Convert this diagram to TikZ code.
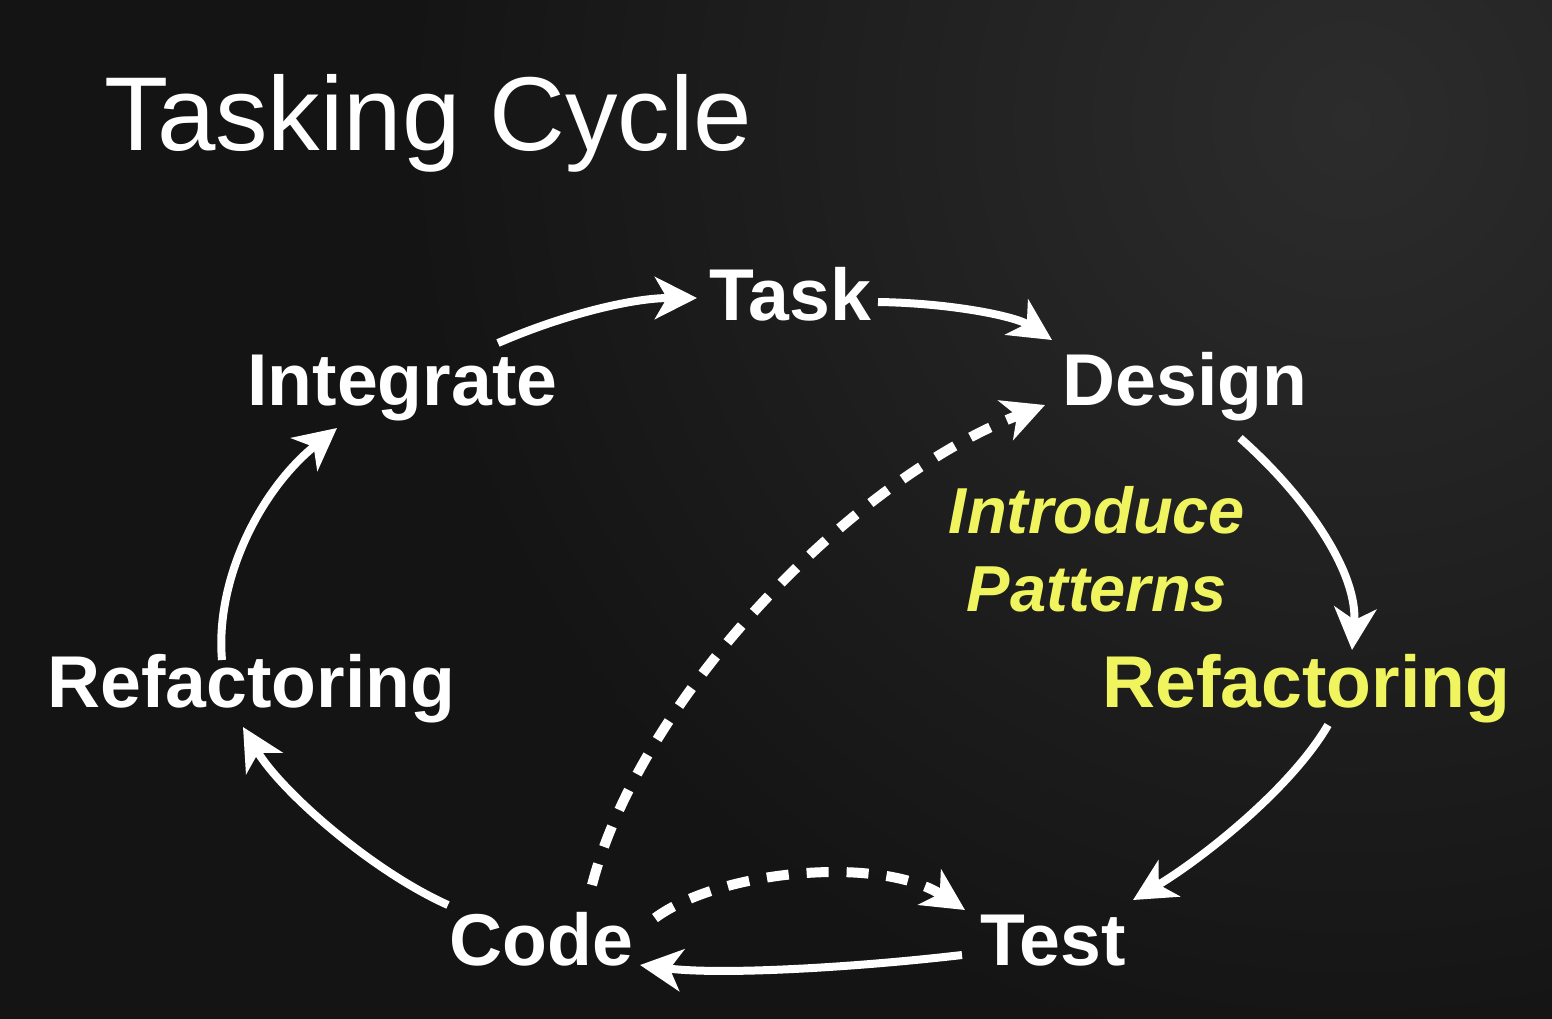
\documentclass[tikz,border=0pt]{standalone}
\usepackage{fontspec}
\setmainfont{Liberation Sans}
\usetikzlibrary{arrows.meta,calc}
\definecolor{bgdark}{RGB}{20,20,20}
\definecolor{bglight}{RGB}{44,44,44}
\definecolor{hiyellow}{RGB}{240,245,95}
\tikzset{
  lbl/.style={anchor=base west,inner sep=0pt,text=white,font=\bfseries\fontsize{36.7}{40}\selectfont},
  ylbl/.style={lbl,text=hiyellow},
  flow/.style={draw=white,line width=4pt,-{Stealth[length=21pt,width=21pt,inset=6pt]}},
  dflow/.style={draw=white,line width=5pt,dash pattern=on 11pt off 9pt,-{Stealth[length=21pt,width=21pt,inset=6pt]}}
}
\begin{document}
\begin{tikzpicture}[x=0.5pt,y=-0.5pt]
\useasboundingbox (0,0) rectangle (1552,1018);
\fill[bgdark] (-10,-10) rectangle (1562,1028);
\begin{scope}
\clip (-10,-10) rectangle (1562,1028);
\shade[inner color=bglight,outer color=bgdark] (1350,120) circle [radius=950];
\end{scope}
% title
\node[anchor=base west,inner sep=0pt,text=white,font=\fontsize{52.5}{56}\selectfont] (title) at (104,150) {Tasking Cycle};
% labels
\node[lbl] (task) at (709,320) {Task};
\node[lbl] (integ) at (247,405) {Integrate};
\node[lbl] (design) at (1062,405) {Design};
\node[ylbl] (refR) at (1102,707) {Refactoring};
\node[lbl] (refL) at (47,707) {Refactoring};
\node[lbl] (code) at (449,965) {Code};
\node[lbl] (test) at (980,965) {Test};
\node[inner sep=0pt,text=hiyellow,align=center,font=\bfseries\itshape\fontsize{32.5}{39}\selectfont] (intro) at (1097,549) {Introduce\\Patterns};
% solid arrows
\draw[flow] ($(integ.base west)+(251,-62)$) .. controls (560,316) and (630,298) .. ($(task.base west)+(-12,-22)$);
\draw[flow] ($(task.base west)+(169,-18)$) .. controls (950,303) and (1015,316) .. ($(design.base west)+(-10,-65)$);
\draw[flow] ($(design.base west)+(178,33)$) .. controls (1310,500) and (1358,575) .. ($(refR.base west)+(250,-57)$);
\draw[flow] ($(refR.base west)+(226,18)$) .. controls (1290,790) and (1200,860) .. ($(test.base west)+(153,-65)$);
\draw[flow] ($(test.base west)+(-18,-10)$) .. controls (850,968) and (720,975) .. ($(code.base west)+(191,0)$);
\draw[flow] ($(code.base west)+(-1,-60)$) .. controls (370,870) and (280,790) .. ($(refL.base west)+(196,20)$);
\draw[flow] ($(refL.base west)+(175,-47)$) .. controls (215,580) and (260,490) .. ($(integ.base west)+(90,23)$);
% dashed arrows
\draw[dflow] ($(code.base west)+(206,-47)$) .. controls (720,870) and (880,855) .. ($(test.base west)+(-15,-55)$);
\draw[dflow] ($(code.base west)+(143,-80)$) .. controls (640,700) and (850,480) .. ($(design.base west)+(-17,0)$);
\end{tikzpicture}
\end{document}
